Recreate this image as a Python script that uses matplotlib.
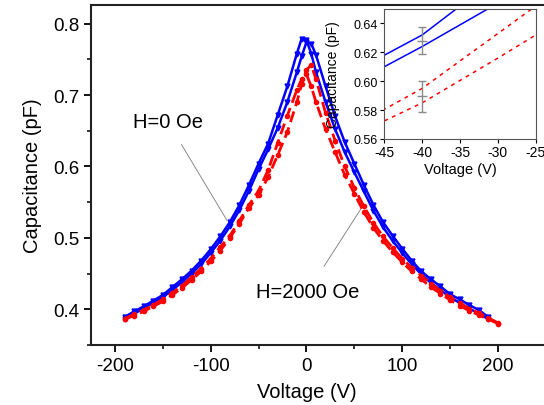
import matplotlib
matplotlib.use("Agg")
import matplotlib.pyplot as plt
from matplotlib.ticker import MultipleLocator

plt.rcParams['font.family'] = ['Liberation Sans', 'DejaVu Sans']
plt.rcParams['axes.unicode_minus'] = False

# voltages (V)
v_blue = [-190, -180, -170, -160, -150, -140, -130, -120, -110, -100, -90, -80, -70, -60, -50, -40, -30, -20, -10, -5,
          0, 5, 10, 20, 30, 40, 50, 60, 70, 80, 90, 100, 110, 120, 130, 140, 150, 160, 170, 180, 190]
v_red = v_blue + [200]

# H = 0 Oe, two sweep directions (pF)
c0_a = [0.389, 0.397, 0.404, 0.412, 0.420, 0.431, 0.442, 0.454, 0.468, 0.484, 0.502, 0.522, 0.546, 0.574, 0.604,
        0.632, 0.672, 0.712, 0.758, 0.779, 0.777, 0.758, 0.732, 0.690, 0.652, 0.620, 0.592, 0.565, 0.538, 0.515,
        0.496, 0.479, 0.463, 0.449, 0.437, 0.427, 0.417, 0.409, 0.401, 0.394, 0.386]
c0_b = [0.386, 0.394, 0.401, 0.409, 0.417, 0.427, 0.438, 0.450, 0.463, 0.479, 0.496, 0.516, 0.539, 0.566, 0.596,
        0.624, 0.654, 0.690, 0.732, 0.754, 0.774, 0.772, 0.756, 0.712, 0.670, 0.634, 0.604, 0.574, 0.546, 0.522,
        0.503, 0.485, 0.468, 0.453, 0.442, 0.432, 0.421, 0.414, 0.406, 0.399, 0.389]

# H = 2000 Oe
c2_a = [0.387, 0.393, 0.399, 0.406, 0.414, 0.423, 0.433, 0.445, 0.457, 0.471, 0.487, 0.503, 0.524, 0.546, 0.566,
        0.595, 0.633, 0.671, 0.707, 0.722, 0.729, 0.712, 0.690, 0.652, 0.620, 0.588, 0.562, 0.536, 0.514, 0.496,
        0.480, 0.466, 0.453, 0.442, 0.431, 0.422, 0.413, 0.405, 0.398, 0.392, 0.386, 0.380]
c2_b = [0.386, 0.391, 0.397, 0.404, 0.411, 0.420, 0.430, 0.441, 0.453, 0.467, 0.482, 0.500, 0.520, 0.542, 0.560,
        0.585, 0.616, 0.648, 0.690, 0.715, 0.735, 0.742, 0.722, 0.675, 0.636, 0.600, 0.570, 0.544, 0.521, 0.502,
        0.486, 0.471, 0.458, 0.447, 0.436, 0.426, 0.417, 0.409, 0.401, 0.395, 0.388, 0.381]

# error bars shown in the inset
err_v = [-40, -40]
err_c = [0.628, 0.5895]
err_d = [0.0095, 0.0105]

blue, red, gris = '#0000ff', '#ff0000', '#8a8a8a'

fig = plt.figure(figsize=(5.44, 4.06), dpi=100)
ax = fig.add_axes([0.1673, 0.1478, 0.836, 0.8374])

ax.plot(v_blue, c0_a, '-', color=blue, lw=1.8, marker='v', ms=3.5, zorder=3)
ax.plot(v_blue, c0_b, '-', color=blue, lw=1.8, marker='v', ms=3.5, zorder=3)
ax.plot(v_red, c2_a, '--', color=red, lw=2.0, marker='o', ms=3, dashes=(4, 2), zorder=4)
ax.plot(v_red, c2_b, '--', color=red, lw=2.0, marker='o', ms=3, dashes=(4, 2), zorder=4)

ax.set_xlim(-225, 250)
ax.set_ylim(0.35, 0.826)
ax.xaxis.set_major_locator(MultipleLocator(100))
ax.xaxis.set_minor_locator(MultipleLocator(50))
ax.yaxis.set_major_locator(MultipleLocator(0.1))
ax.yaxis.set_minor_locator(MultipleLocator(0.05))
ax.tick_params(which='major', direction='out', length=5, width=1.3, labelsize=13.5)
ax.tick_params(which='minor', direction='out', length=3, width=1.1)
for s in ax.spines.values():
    s.set_linewidth(1.5)
    s.set_color('#222222')

ax.set_xlabel("Voltage (V)", fontsize=14.5, labelpad=6)
ax.xaxis.label.set_x(225 / 475)
ax.set_ylabel("Capacitance (pF)", fontsize=14.5, labelpad=8)

ax.annotate("H=0 Oe", xy=(-83, 0.5245), xytext=(-145, 0.663), fontsize=14.5, ha='center', va='center',
            arrowprops=dict(arrowstyle='-', color=gris, lw=0.7, shrinkA=9, shrinkB=0))
ax.annotate("H=2000 Oe", xy=(60, 0.547), xytext=(1.5, 0.425), fontsize=14.5, ha='center', va='center',
            arrowprops=dict(arrowstyle='-', color=gris, lw=0.7, shrinkA=11, shrinkB=0))

# inset
axi = fig.add_axes([0.7064, 0.6552, 0.2783, 0.3202])
axi.plot(v_blue, c0_a, '-', color=blue, lw=1.1)
axi.plot(v_blue, c0_b, '-', color=blue, lw=1.1)
axi.plot(v_red, c2_a, color=red, lw=1.1, dashes=(2.5, 3))
axi.plot(v_red, c2_b, color=red, lw=1.1, dashes=(2.5, 3))
axi.errorbar(err_v, err_c, yerr=err_d, fmt='_', color=gris, ms=7, elinewidth=1, capsize=3, capthick=1)
axi.set_xlim(-45, -25)
axi.set_ylim(0.56, 0.65)
axi.xaxis.set_major_locator(MultipleLocator(5))
axi.yaxis.set_major_locator(MultipleLocator(0.02))
axi.tick_params(direction='out', length=3, width=0.8, labelsize=9, pad=1.5)
axi.tick_params(axis='x', labelsize=10)
for s in axi.spines.values():
    s.set_linewidth(0.8)
    s.set_color('#555555')
axi.set_xlabel("Voltage (V)", fontsize=10.5, labelpad=2)
axi.set_ylabel("Capacitance (pF)", fontsize=10)
axi.yaxis.set_label_coords(-0.29, 0.5)

plt.savefig("out.png", dpi=100)
